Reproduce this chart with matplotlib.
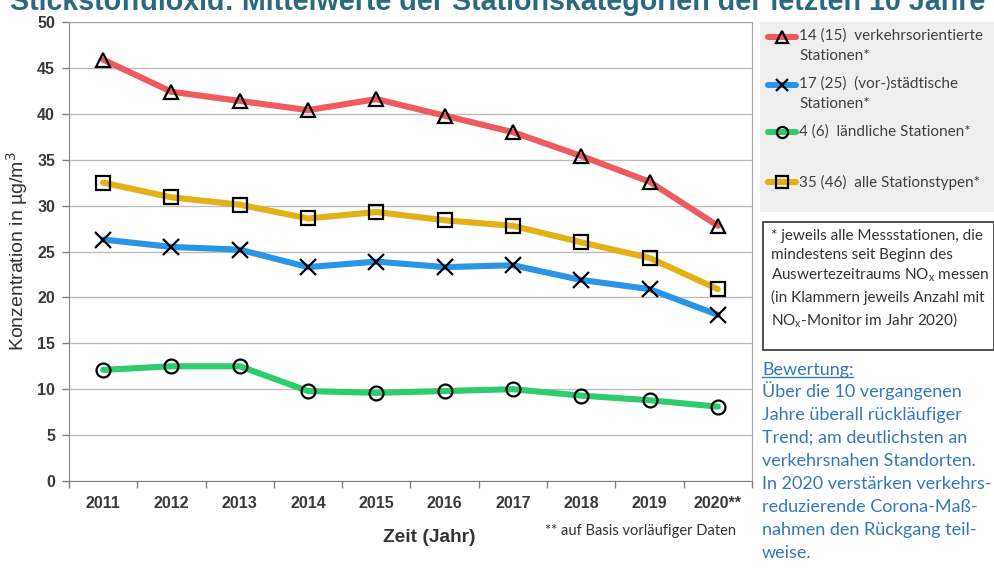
import matplotlib
matplotlib.use("Agg")
import matplotlib.pyplot as plt
from matplotlib.lines import Line2D
from matplotlib.patches import Rectangle

years = ["2011", "2012", "2013", "2014", "2015", "2016", "2017", "2018", "2019", "2020**"]
verkehr = [45.9, 42.4, 41.4, 40.4, 41.6, 39.8, 38.0, 35.4, 32.6, 27.8]
alle = [32.5, 30.9, 30.1, 28.6, 29.3, 28.4, 27.8, 26.0, 24.3, 20.9]
staedtisch = [26.3, 25.5, 25.2, 23.3, 23.9, 23.3, 23.5, 21.9, 20.9, 18.1]
laendlich = [12.1, 12.5, 12.5, 9.8, 9.6, 9.8, 10.0, 9.3, 8.8, 8.1]

W, H = 995, 572
def fx(px): return px / W
def fy(py): return 1 - py / H

plt.rcParams['font.family'] = ['Liberation Sans', 'DejaVu Sans']
plt.rcParams['mathtext.fontset'] = 'custom'
plt.rcParams['mathtext.rm'] = 'Lato'
plt.rcParams['mathtext.it'] = 'Lato'

fig = plt.figure(figsize=(W / 100, H / 100), dpi=100)
ax = fig.add_axes([fx(69), fy(481), fx(752) - fx(69), fy(22) - fy(481)])

RED, BLUE, GREEN, YEL = '#EE5A5E', '#2A94E6', '#2ECC6E', '#E3B015'
x = list(range(len(years)))
series = [
    (verkehr, RED, '^'),
    (alle, YEL, 's'),
    (staedtisch, BLUE, 'x'),
    (laendlich, GREEN, 'o'),
]
for vals, col, m in series:
    ax.plot(x, vals, color=col, lw=4.4, marker=m, ms=10 if m != 'x' else 11,
            mec='black', mfc='none', mew=1.6, solid_capstyle='round', zorder=3)

ax.set_xlim(-0.5, len(years) - 0.5)
ax.set_ylim(0, 50)
ax.set_yticks(range(0, 51, 5))
ax.yaxis.grid(True, color='#BDBDBD', lw=1)
ax.set_axisbelow(True)
ax.set_xticks([i - 0.5 for i in range(len(years) + 1)])
ax.set_xticklabels([])
ax.set_xticks(x, minor=True)
ax.set_xticklabels(years, minor=True)
ax.tick_params(axis='x', which='major', length=5, color='#808080', width=1)
ax.tick_params(axis='x', which='minor', length=0, pad=11, labelsize=11.5, labelcolor='#3A3A3A')
ax.tick_params(axis='y', length=5, color='#808080', width=1, labelsize=11.5, labelcolor='#3A3A3A', pad=5)
for lbl in ax.get_yticklabels() + ax.get_xticklabels(minor=True):
    lbl.set_fontweight('bold')
for s in ['left', 'bottom']:
    ax.spines[s].set_color('#808080')
for s in ['top', 'right']:
    ax.spines[s].set_color('#A6A6A6')

ax.set_ylabel('Konzentration in µg/m$^3$', fontsize=14, color='#333333', labelpad=5)
ax.yaxis.label.set_math_fontfamily('dejavusans')
fig.text(fx(429), fy(537), 'Zeit (Jahr)', fontsize=13.8, fontweight='bold', color='#333333',
         ha='center', va='center')
fig.text(fx(545), fy(531), '** auf Basis vorläufiger Daten', fontsize=10.5, family='Lato',
         color='#333333', ha='left', va='center')

fig.text(fx(10), fy(10), 'Stickstoffdioxid: Mittelwerte der Stationskategorien der letzten 10 Jahre',
         fontsize=20.6, fontweight='bold', color='#2B6A7E', ha='left', va='baseline')

# legend panel
fig.add_artist(Rectangle((fx(760), fy(212)), fx(995) - fx(760), fy(22) - fy(212),
                         transform=fig.transFigure, facecolor='#EFEFEF', edgecolor='none'))
leg = [
    (RED, '^', 37, '14 (15)  verkehrsorientierte\nStationen*'),
    (BLUE, 'x', 85, '17 (25)  (vor-)städtische\nStationen*'),
    (GREEN, 'o', 132, '4 (6)  ländliche Stationen*'),
    (YEL, 's', 182, '35 (46)  alle Stationstypen*'),
]
for col, m, py, txt in leg:
    fig.add_artist(Line2D([fx(768), fx(796)], [fy(py), fy(py)], transform=fig.transFigure,
                          color=col, lw=4.4, solid_capstyle='round'))
    fig.add_artist(Line2D([fx(782)], [fy(py)], transform=fig.transFigure, marker=m,
                          ms=8 if m != 'x' else 9, mec='black', mfc='none', mew=1.6))
    multi = '\n' in txt
    fig.text(fx(799), fy(py - 9) if multi else fy(py), txt, fontsize=11, family='Lato',
             color='#404040', ha='left', va='top' if multi else 'center',
             linespacing=1.64)

# footnote box
fig.add_artist(Rectangle((fx(763), fy(350)), fx(994) - fx(763), fy(222) - fy(350),
                         transform=fig.transFigure, facecolor='white', edgecolor='#333333', lw=1.2))
foot = ('* jeweils alle Messstationen, die\nmindestens seit Beginn des\n'
        'Auswertezeitraums NO$_\\mathrm{x}$ messen\n(in Klammern jeweils Anzahl mit\n'
        'NO$_\\mathrm{x}$-Monitor im Jahr 2020)')
fig.text(fx(771), fy(229), foot, fontsize=11, family='Lato', color='#333333',
         ha='left', va='top', linespacing=1.42)

BL = '#3478BA'
t = fig.text(fx(762), fy(370), 'Bewertung:', fontsize=13, family='Lato', color=BL,
             ha='left', va='center')
fig.text(fx(762), fy(381), 'Über die 10 vergangenen\nJahre überall rückläufiger\n'
         'Trend; am deutlichsten an\nverkehrsnahen Standorten.\n'
         'In 2020 verstärken verkehrs-\nreduzierende Corona-Maß-\n'
         'nahmen den Rückgang teil-\nweise.', fontsize=13, family='Lato', color=BL,
         ha='left', va='top', linespacing=1.54)
fig.canvas.draw()
bb = t.get_window_extent()
fig.add_artist(Line2D([bb.x0 / W, bb.x1 / W], [(bb.y0 + 1) / H] * 2, transform=fig.transFigure,
                      color=BL, lw=1))

fig.savefig('out.png', dpi=100)
